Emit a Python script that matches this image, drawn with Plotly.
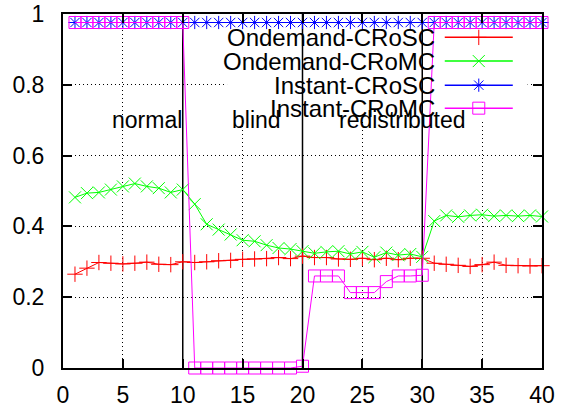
import plotly.graph_objects as go

# ---- data ----
steps = [1, 2, 3, 4, 5, 6, 7, 8, 9, 10,
         11, 12, 13, 14, 15, 16, 17, 18, 19, 20,
         21, 22, 23, 24, 25, 26, 27, 28, 29, 30,
         31, 32, 33, 34, 35, 36, 37, 38, 39, 40]

ondemand_crosc = [0.265, 0.282, 0.298, 0.296, 0.294, 0.296, 0.299, 0.293, 0.292, 0.300,
                  0.298, 0.300, 0.303, 0.304, 0.307, 0.308, 0.309, 0.312, 0.309, 0.316,
                  0.312, 0.312, 0.308, 0.307, 0.310, 0.306, 0.310, 0.306, 0.310, 0.310,
                  0.296, 0.293, 0.290, 0.287, 0.292, 0.299, 0.290, 0.289, 0.288, 0.289]

ondemand_cromc = [0.482, 0.494, 0.496, 0.504, 0.513, 0.521, 0.513, 0.508, 0.496, 0.504,
                  0.463, 0.406, 0.391, 0.377, 0.361, 0.358, 0.347, 0.339, 0.336, 0.330,
                  0.324, 0.328, 0.330, 0.322, 0.328, 0.313, 0.326, 0.319, 0.322, 0.314,
                  0.415, 0.431, 0.427, 0.431, 0.433, 0.429, 0.431, 0.429, 0.431, 0.428]

instant_crosc = [0.976] * 40

instant_cromc = [0.976, 0.976, 0.976, 0.976, 0.976, 0.976, 0.976, 0.976, 0.976, 0.976,
                 0.0, 0.0, 0.0, 0.0, 0.0, 0.0, 0.0, 0.0, 0.0, 0.005,
                 0.260, 0.260, 0.260, 0.213, 0.213, 0.213, 0.244, 0.260, 0.260, 0.262,
                 0.976, 0.976, 0.976, 0.976, 0.976, 0.976, 0.976, 0.976, 0.976, 0.976]

series_names = ["Ondemand-CRoSC", "Ondemand-CRoMC", "Instant-CRoSC", "Instant-CRoMC"]
series_values = [ondemand_crosc, ondemand_cromc, instant_crosc, instant_cromc]

phase_labels = ["normal", "blind", "redistributed"]
phase_label_x = [4, 14, 23]
phase_label_y = 0.7
phase_bounds = [10, 20, 30]

x_ticks = [0, 5, 10, 15, 20, 25, 30, 35, 40]
y_ticks = [0, 0.2, 0.4, 0.6, 0.8, 1]
y_tick_text = ["0", "0.2", "0.4", "0.6", "0.8", "1"]

# ---- styles ----
colors = ["#ff0000", "#00ff00", "#0000ff", "#ff00ff"]
symbols = ["cross-thin-open", "x-thin-open", "asterisk-open", "square-open"]
msizes = [11, 12, 11, 12]
FONT = "Liberation Sans, Arial, sans-serif"
FS = 23
KEY_FS = 24

fig = go.Figure()

for name, vals, c, s, ms in zip(series_names, series_values, colors, symbols, msizes):
    fig.add_trace(go.Scatter(
        x=steps, y=vals, name=name, mode="lines+markers",
        line=dict(color=c, width=1),
        marker=dict(symbol=s, size=ms, color=c, line=dict(color=c, width=1)),
        showlegend=False, cliponaxis=False,
    ))

# manual key (text left, sample right) on an overlay axis in plot-fraction units
key_rows = [0.934, 0.867, 0.799, 0.734]
key_line_x = [0.797, 0.939]
key_marker_x = 0.868
key_text_x = 0.778
for name, c, s, ms, ry in zip(series_names, colors, symbols, msizes, key_rows):
    fig.add_trace(go.Scatter(
        x=key_line_x, y=[ry, ry], xaxis="x2", yaxis="y2", mode="lines",
        line=dict(color=c, width=1.5), showlegend=False, hoverinfo="skip"))
    fig.add_trace(go.Scatter(
        x=[key_marker_x], y=[ry], xaxis="x2", yaxis="y2", mode="markers",
        marker=dict(symbol=s, size=ms, color=c, line=dict(color=c, width=1)),
        showlegend=False, hoverinfo="skip"))
    fig.add_annotation(x=key_text_x, y=ry, xref="x2", yref="y2", text=name,
                       showarrow=False, xanchor="right", yanchor="middle",
                       borderpad=0,
                       font=dict(family=FONT, size=KEY_FS, color="black"))

# opaque key background (above grid, below data)
fig.add_shape(type="rect", xref="x", yref="y", x0=13.7, x1=38.8, y0=0.70, y1=1.0,
              fillcolor="white", line=dict(width=0), layer="between")

for b in phase_bounds:
    fig.add_shape(type="line", xref="x", yref="y", x0=b, x1=b, y0=0, y1=1,
                  line=dict(color="black", width=1.5), layer="between")

for t, lx in zip(phase_labels, phase_label_x):
    fig.add_annotation(x=lx, y=phase_label_y, xref="x", yref="y", text=t,
                       showarrow=False, xanchor="left", yanchor="middle",
                       borderpad=0,
                       font=dict(family=FONT, size=FS, color="black"))

axis_common = dict(
    showline=True, linecolor="black", linewidth=2, mirror="ticks",
    ticks="inside", ticklen=9, tickwidth=1.5, tickcolor="black",
    showgrid=True, gridcolor="black", gridwidth=1, griddash="1px,3px",
    zeroline=False, automargin=False,
    tickfont=dict(family=FONT, size=FS, color="black"),
)

fig.update_layout(
    width=569, height=406,
    margin=dict(l=63, r=27, t=14, b=38, autoexpand=False),
    paper_bgcolor="white", plot_bgcolor="white",
    xaxis=dict(range=[0, 40], tickvals=x_ticks, ticklabelstandoff=5, **axis_common),
    yaxis=dict(range=[0, 1], tickvals=y_ticks, ticktext=y_tick_text,
               ticklabelstandoff=12, **axis_common),
    xaxis2=dict(range=[0, 1], overlaying="x", visible=False, anchor="y2"),
    yaxis2=dict(range=[0, 1], overlaying="y", visible=False, anchor="x2"),
    showlegend=False,
)

fig.write_html("out.html")
